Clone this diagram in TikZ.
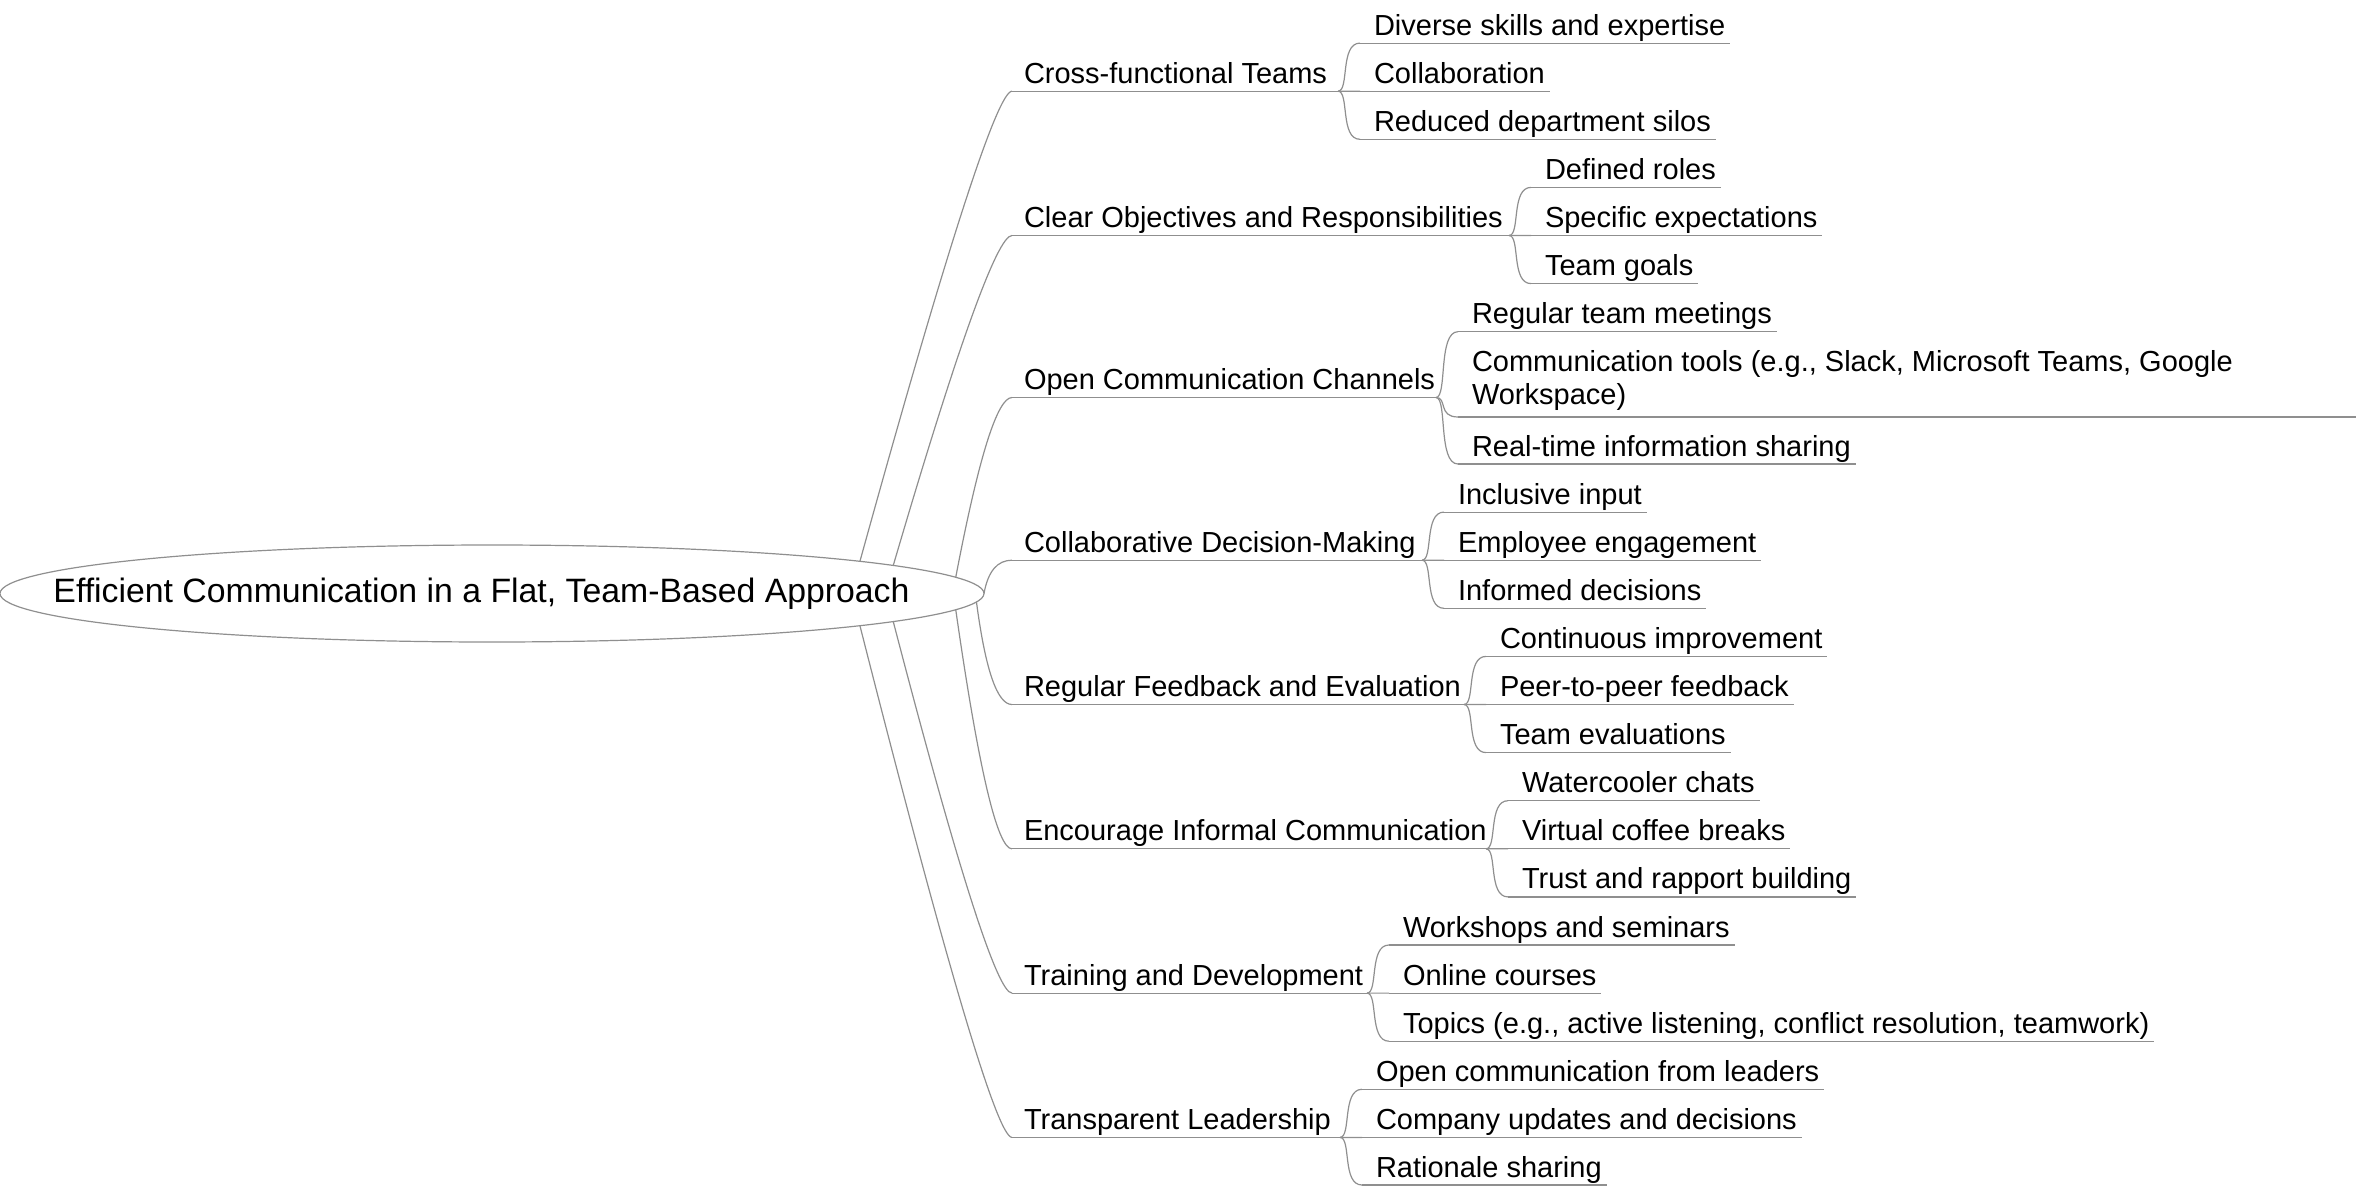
\documentclass[tikz,border=0pt]{standalone}
\usepackage{fontspec}
\setmainfont{Liberation Sans}
\usetikzlibrary{calc,shapes.geometric}
\definecolor{linegray}{HTML}{8F8F8F}
\tikzset{
  conn/.style={draw=linegray, line width=1.2pt},
  ul/.style={draw=linegray, line width=1.2pt},
  topic/.style={anchor=base west, inner sep=0pt, outer sep=0pt, text=black,
    font=\fontsize{29}{32.5}\selectfont},
  rootnode/.style={ellipse, draw=linegray, line width=1.2pt, fill=white,
    inner sep=0pt, outer sep=0pt, minimum width=984pt, minimum height=97pt,
    text=black, font=\fontsize{33.8}{40}\selectfont},
}
% leaf: name, x of text, y of underline, text
\newcommand\mmleaf[4]{%
  \node[topic] (#1) at (#2,#3-8) {#4};
  \coordinate (#1-s) at (#2-14,#3);
  \coordinate (#1-e) at ($(#1.base east |- #1-s)+(5,0)$);
  \draw[ul] (#1-s) -- (#1-e);
}
% branch: name, y of underline, x of underline end, text
\newcommand\mmbranch[4]{%
  \node[topic] (#1) at (1024,#2-8) {#4};
  \coordinate (#1-s) at (1012,#2);
  \coordinate (#1-c) at (990,#2);
  \coordinate (#1-e) at (#3,#2);
  \draw[ul] (#1-s) -- (#1-e);
}
\newcommand\mmrootlink[2]{%
  \draw[conn] (root.#1) .. controls ($(root.#1)!.667!(#2-c)$) and ($(#2-s)!.667!(#2-c)$) .. (#2-s);
}
\newcommand\mmchildlink[2]{%
  \draw[conn] (#1-e) .. controls ($(#1-e)!.52!(#2-s |- #1-e)$) and ($(#1-e |- #2-s)!.08!(#2-s)$) .. (#2-s);
}
\begin{document}
\begin{tikzpicture}[x=1pt,y=-1pt]
\useasboundingbox (0,0) rectangle (2356,1186);

\node[rootnode] (root) at (492,593.5) {\makebox[0pt][c]{\hspace*{-21pt}Efficient Communication in a Flat, Team-Based Approach}};

% branches
\mmbranch{b1}{91.2}{1338}{Cross-functional Teams}
\mmbranch{b2}{235.5}{1509}{Clear Objectives and Responsibilities}
\mmbranch{b3}{397.5}{1436}{Open Communication Channels}
\mmbranch{b4}{560.2}{1422}{Collaborative Decision-Making}
\mmbranch{b5}{704.5}{1464}{Regular Feedback and Evaluation}
\mmbranch{b6}{848.8}{1486}{Encourage Informal Communication}
\mmbranch{b7}{993.1}{1367}{Training and Development}
\mmbranch{b8}{1137.4}{1340}{Transparent Leadership}

\mmrootlink{5.85}{b1}
\mmrootlink{4.29}{b2}
\mmrootlink{2.30}{b3}
\mmrootlink{0.41}{b4}
\mmrootlink{-1.37}{b5}
\mmrootlink{-2.52}{b6}
\mmrootlink{-4.18}{b7}
\mmrootlink{-5.79}{b8}

% leaves
\mmleaf{c11}{1374}{43.1}{Diverse skills and expertise}
\mmleaf{c12}{1374}{91.2}{Collaboration}
\mmleaf{c13}{1374}{139.3}{Reduced department silos}

\mmleaf{c21}{1545}{187.4}{Defined roles}
\mmleaf{c22}{1545}{235.5}{Specific expectations}
\mmleaf{c23}{1545}{283.6}{Team goals}

\mmleaf{c31}{1472}{331.7}{Regular team meetings}
\node[topic, anchor=north west, align=left] (c32) at (1472,350.6)
  {Communication tools (e.g., Slack, Microsoft Teams, Google\\Workspace)};
\coordinate (c32-s) at (1458,417);
\coordinate (c32-e) at (2356,417);
\draw[ul] (c32-s) -- (c32-e);
\mmleaf{c33}{1472}{464}{Real-time information sharing}

\mmleaf{c41}{1458}{512.1}{Inclusive input}
\mmleaf{c42}{1458}{560.2}{Employee engagement}
\mmleaf{c43}{1458}{608.3}{Informed decisions}

\mmleaf{c51}{1500}{656.4}{Continuous improvement}
\mmleaf{c52}{1500}{704.5}{Peer-to-peer feedback}
\mmleaf{c53}{1500}{752.6}{Team evaluations}

\mmleaf{c61}{1522}{800.7}{Watercooler chats}
\mmleaf{c62}{1522}{848.8}{Virtual coffee breaks}
\mmleaf{c63}{1522}{896.9}{Trust and rapport building}

\mmleaf{c71}{1403}{945}{Workshops and seminars}
\mmleaf{c72}{1403}{993.1}{Online courses}
\mmleaf{c73}{1403}{1041.2}{Topics (e.g., active listening, conflict resolution, teamwork)}

\mmleaf{c81}{1376}{1089.3}{Open communication from leaders}
\mmleaf{c82}{1376}{1137.4}{Company updates and decisions}
\mmleaf{c83}{1376}{1185}{Rationale sharing}

% branch-to-leaf links
\foreach \b in {1,...,8}{
  \foreach \c in {1,2,3}{
    \mmchildlink{b\b}{c\b\c}
  }
}
\end{tikzpicture}
\end{document}
